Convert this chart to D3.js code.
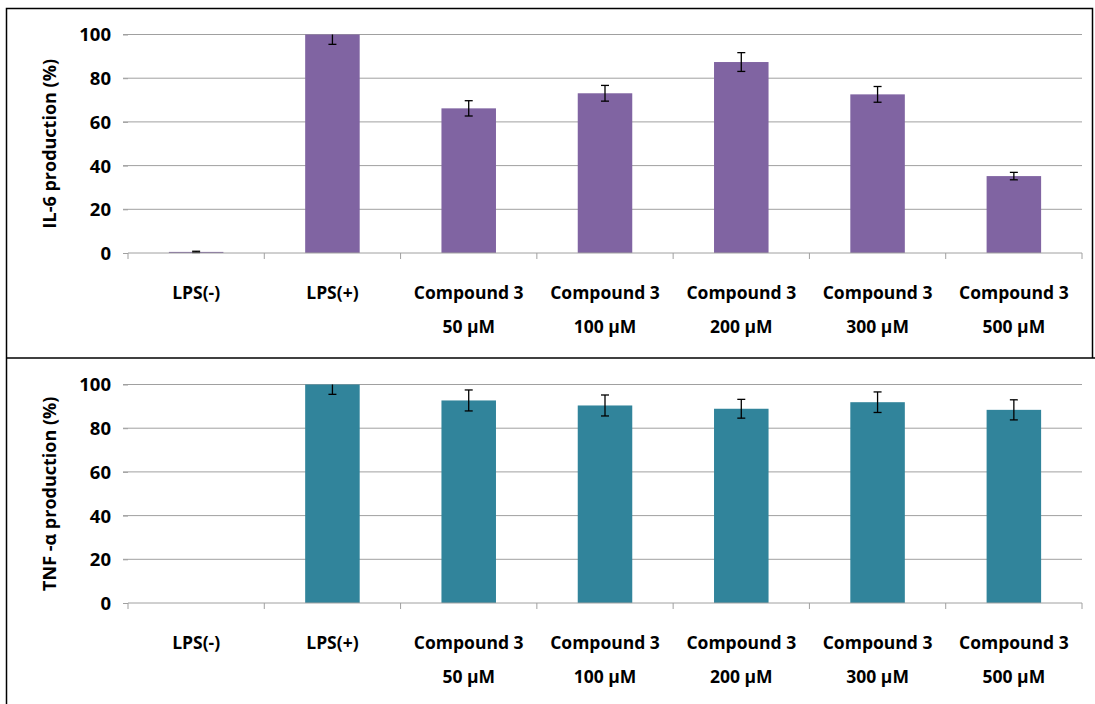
<!DOCTYPE html>
<html>
<head>
<meta charset="utf-8">
<script src="https://cdn.jsdelivr.net/npm/d3@7"></script>
<style>
  html, body { margin: 0; padding: 0; background: #fff; }
  svg { display: block; }
  text { font-family: "Open Sans", "Noto Sans", sans-serif; font-weight: bold; fill: #000; }
</style>
</head>
<body>
<svg id="chart" width="1095" height="704"></svg>
<script>
const categories = ["LPS(-)", "LPS(+)", "Compound 3|50 µM", "Compound 3|100 µM", "Compound 3|200 µM", "Compound 3|300 µM", "Compound 3|500 µM"];
const il6Values = [0.5, 100, 66.2, 73.1, 87.4, 72.6, 35.2];
const il6Errors = [0.3, 4.5, 3.5, 3.6, 4.3, 3.6, 1.7];
const tnfValues = [0, 100, 92.7, 90.4, 88.9, 91.9, 88.4];
const tnfErrors = [0, 4.5, 4.8, 4.8, 4.3, 4.7, 4.6];
const yTicks = [0, 20, 40, 60, 80, 100];

const svg = d3.select("#chart");

// panel frame
svg.append("path")
  .attr("d", "M6.5,704 L6.5,8.5 L1092.5,8.5 L1092.5,358")
  .attr("fill", "none").attr("stroke", "#000").attr("stroke-width", 1.5);
svg.append("line").attr("x1", 6).attr("x2", 1095).attr("y1", 358).attr("y2", 358)
  .attr("stroke", "#000").attr("stroke-width", 1.5);

const x = d3.scaleBand().domain(categories).range([128, 1082]).paddingInner(0.6).paddingOuter(0.3);

function panel(top, values, errors, color, title) {
  const y = d3.scaleLinear().domain([0, 100]).range([top + 218.5, top]);
  const g = svg.append("g");
  // gridlines
  g.selectAll(".grid").data(yTicks.filter(d => d > 0)).enter().append("line")
    .attr("x1", 123).attr("x2", 1082)
    .attr("y1", d => y(d)).attr("y2", d => y(d))
    .attr("stroke", "#a0a0a0").attr("stroke-width", 1);
  // y axis
  const ya = g.append("g").attr("transform", "translate(128,0)")
    .call(d3.axisLeft(y).tickValues(yTicks).tickSize(5).tickPadding(12));
  ya.select(".domain").remove();
  ya.selectAll(".tick line").attr("stroke", "#a0a0a0");
  ya.selectAll(".tick text").style("font-size", "18.5px").attr("dy", "0.35em");
  // bars
  g.selectAll(".bar").data(categories).enter().append("rect")
    .attr("x", d => x(d)).attr("width", x.bandwidth())
    .attr("y", (d, i) => y(values[i])).attr("height", (d, i) => y(0) - y(values[i]))
    .attr("fill", color);
  // error bars (clipped at axis max)
  const eb = g.selectAll(".err").data(categories.map((c, i) => ({c, v: values[i], e: errors[i]})).filter(d => d.e > 0))
    .enter().append("g");
  const cx = d => x(d.c) + x.bandwidth() / 2;
  const hi = d => y(Math.min(100, d.v + d.e));
  const lo = d => y(d.v - d.e);
  eb.append("line").attr("x1", cx).attr("x2", cx).attr("y1", hi).attr("y2", lo).attr("stroke", "#000").attr("stroke-width", 1.3);
  eb.filter(d => d.v + d.e <= 100).append("line").attr("x1", d => cx(d) - 4).attr("x2", d => cx(d) + 4)
    .attr("y1", hi).attr("y2", hi).attr("stroke", "#000").attr("stroke-width", 1.3);
  eb.append("line").attr("x1", d => cx(d) - 4).attr("x2", d => cx(d) + 4)
    .attr("y1", lo).attr("y2", lo).attr("stroke", "#000").attr("stroke-width", 1.3);
  // x axis line and boundary ticks
  g.append("line").attr("x1", 128).attr("x2", 1082).attr("y1", y(0)).attr("y2", y(0))
    .attr("stroke", "#a0a0a0").attr("stroke-width", 1);
  g.selectAll(".xt").data(d3.range(categories.length + 1)).enter().append("line")
    .attr("x1", i => 128 + i * x.step()).attr("x2", i => 128 + i * x.step())
    .attr("y1", y(0)).attr("y2", y(0) + 6).attr("stroke", "#a0a0a0");
  // x labels
  const lbl = g.selectAll(".xl").data(categories).enter().append("text")
    .attr("text-anchor", "middle").style("font-size", "17.5px")
    .attr("transform", d => `translate(${x(d) + x.bandwidth() / 2},${y(0) + 46})`);
  lbl.each(function(d) {
    const parts = d.split("|");
    parts.forEach((p, k) => {
      d3.select(this).append("tspan").attr("x", 0).attr("y", k * 34).text(p);
    });
  });
  // y title
  g.append("text").attr("text-anchor", "middle").style("font-size", "18px")
    .attr("transform", `translate(56,${(y(0) + y(100)) / 2}) rotate(-90)`)
    .text(title);
}

panel(34.5, il6Values, il6Errors, "#8064a2", "IL-6 production (%)");
panel(384.5, tnfValues, tnfErrors, "#31849b", "TNF -α production (%)");
</script>
</body>
</html>
